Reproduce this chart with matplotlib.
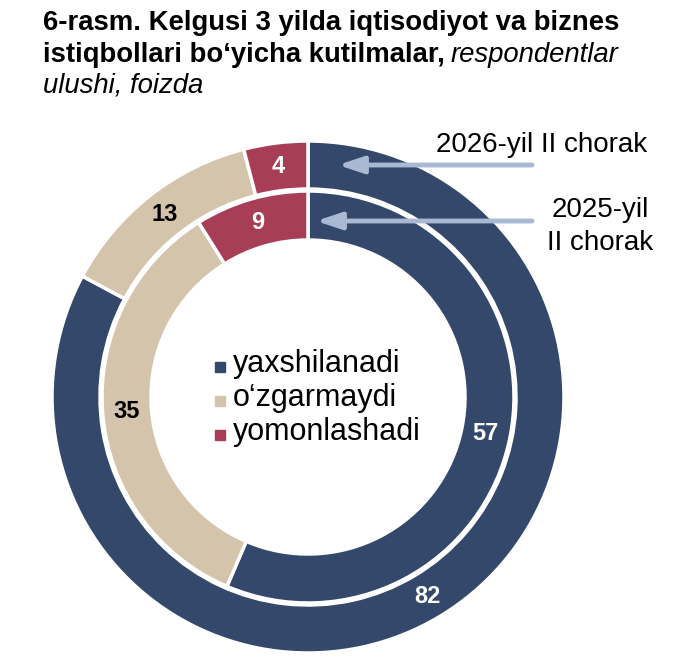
import matplotlib
matplotlib.use("Agg")
import numpy as np
import matplotlib.pyplot as plt
from matplotlib.patches import Rectangle

plt.rcParams['font.family'] = ['Liberation Sans', 'DejaVu Sans']

# data
categories = ['yaxshilanadi', 'o\u2018zgarmaydi', 'yomonlashadi']
vals_2026 = [82, 13, 4]    # outer ring, 2026-yil II chorak
vals_2025 = [57, 35, 9]    # inner ring, 2025-yil II chorak
colors = ['#34486B', '#D4C4AC', '#A83D56']
label_colors = ['white', 'black', 'white']

W, H = 680, 664
fig = plt.figure(figsize=(W / 100, H / 100), dpi=100)
ax = fig.add_axes([0, 0, 1, 1])

cx, cy = 308, H - 397
R_out, w_out = 256, 48
R_in, w_in = 206, 49

wp = dict(edgecolor='white', linewidth=2.5)
w1, _ = ax.pie(vals_2026, radius=R_out, center=(cx, cy), startangle=90,
               counterclock=False, colors=colors,
               wedgeprops=dict(width=w_out, **wp), frame=True)
w2, _ = ax.pie(vals_2025, radius=R_in, center=(cx, cy), startangle=90,
               counterclock=False, colors=colors,
               wedgeprops=dict(width=w_in, **wp), frame=True)
ax.set_xlim(0, W)
ax.set_ylim(0, H)
ax.set_aspect('equal')
ax.axis('off')


def put_labels(vals, r_mid):
    tot = float(sum(vals))
    start = 0.0
    for v, c in zip(vals, label_colors):
        mid = (start + v / 2) / tot * 2 * np.pi
        x = cx + r_mid * np.sin(mid)
        y = cy + r_mid * np.cos(mid)
        ax.text(x, y, str(v), ha='center', va='center', fontsize=17,
                fontweight='bold', color=c)
        start += v


put_labels(vals_2026, R_out - w_out / 2)
put_labels(vals_2025, R_in - w_in / 2)

# arrows pointing at rings
arrow_c = '#A9B9D4'
aprops = dict(arrowstyle='-|>,head_length=1.5,head_width=0.5',
              color=arrow_c, lw=3.5, shrinkA=0, shrinkB=0)
ax.annotate('', xy=(338, H - 165), xytext=(532, H - 165), arrowprops=aprops)
ax.annotate('', xy=(316, H - 221), xytext=(532, H - 221), arrowprops=aprops)
ax.text(542, H - 152, '2026-yil II chorak', ha='center', va='baseline',
        fontsize=20)
ax.text(600, H - 217, '2025-yil', ha='center', va='baseline', fontsize=20)
ax.text(600, H - 250, 'II chorak', ha='center', va='baseline', fontsize=20)

# legend in the middle
for i, (name, col) in enumerate(zip(categories, colors)):
    base = H - (372 + 34 * i)
    ax.add_patch(Rectangle((215, base), 10, 10, color=col))
    ax.text(233, base, name, ha='left', va='baseline', fontsize=22)

# title
t1 = fig.text(43 / W, 1 - 30 / H, '6-rasm. Kelgusi 3 yilda iqtisodiyot va biznes',
              fontsize=19.8, fontweight='bold', va='baseline', ha='left')
t2 = fig.text(43 / W, 1 - 62 / H, 'istiqbollari bo\u2018yicha kutilmalar,',
              fontsize=19.8, fontweight='bold', va='baseline', ha='left')
fig.canvas.draw()
bb = t2.get_window_extent()
fig.text((bb.x1 + 6) / W, 1 - 62 / H, 'respondentlar', fontsize=19.8,
         style='italic', va='baseline', ha='left')
fig.text(43 / W, 1 - 93 / H, 'ulushi, foizda', fontsize=19.8,
         style='italic', va='baseline', ha='left')

fig.savefig('out.png', dpi=100)
